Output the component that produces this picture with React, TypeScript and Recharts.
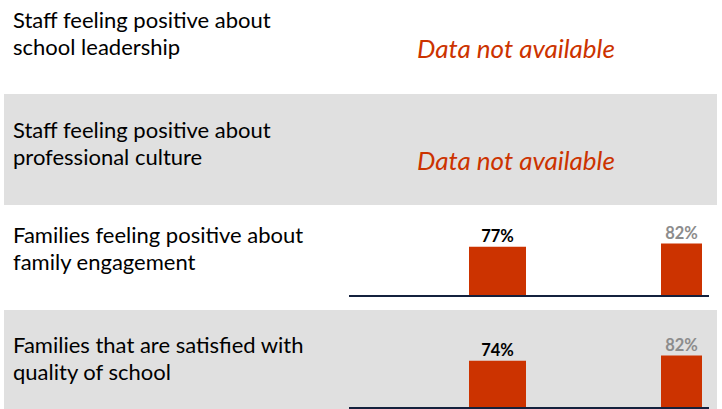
import { Bar, BarChart, LabelList, XAxis, YAxis } from "recharts";

const categories = [
  "Staff feeling positive about\nschool leadership",
  "Staff feeling positive about\nprofessional culture",
  "Families feeling positive about\nfamily engagement",
  "Families that are satisfied with\nquality of school",
];
const schoolValues: (number | null)[] = [null, null, 77, 74];
const comparisonValues: (number | null)[] = [null, null, 82, 82];
const missingText = "Data not available";

const ORANGE = "#cc3300";
const GREY_BG = "#e0e0e0";
const FONT = "Lato, 'Noto Sans', sans-serif";

// layout of the four bands
const rowTops = [0, 94, 205, 310];
const rowHeights = [94, 111, 105, 99];
const rowGrey = [false, true, false, true];
const labelTops = [6, 22, 16, 21];
const missingTops = [32, 50, 0, 0];
const chartTops = [0, 0, -3, 4];

const pct = (v: unknown) => `${v}%`;

function RowChart({ school, comparison }: { school: number; comparison: number }) {
  const data = [{ name: "row", school, comparison }];
  return (
    <BarChart
      width={360}
      height={96}
      data={data}
      margin={{ top: 30, right: 0, bottom: 0, left: 0 }}
      barGap={135}
    >
      <XAxis
        dataKey="name"
        height={2}
        tick={false}
        tickLine={false}
        axisLine={{ stroke: "#14213d", strokeWidth: 2 }}
        padding={{ left: 112, right: 0 }}
      />
      <YAxis hide domain={[0, 100]} />
      <Bar dataKey="school" fill={ORANGE} barSize={57} isAnimationActive={false}>
        <LabelList
          dataKey="school"
          position="top"
          formatter={pct}
          style={{ fill: "#000", fontWeight: 700, fontSize: 16.5, fontFamily: FONT }}
        />
      </Bar>
      <Bar dataKey="comparison" fill={ORANGE} barSize={41} isAnimationActive={false}>
        <LabelList
          dataKey="comparison"
          position="top"
          formatter={pct}
          style={{ fill: "#8c8c8c", fontWeight: 700, fontSize: 16.5, fontFamily: FONT }}
        />
      </Bar>
    </BarChart>
  );
}

export default function App() {
  return (
    <div
      style={{
        position: "absolute",
        left: 0,
        top: 0,
        width: 722,
        height: 409,
        overflow: "hidden",
        background: "#fff",
        fontFamily: FONT,
      }}
    >
      {categories.map((label, i) => {
        const school = schoolValues[i];
        const comparison = comparisonValues[i];
        return (
          <div
            key={label}
            style={{ position: "absolute", left: 0, top: rowTops[i], width: 722, height: rowHeights[i] }}
          >
            {rowGrey[i] && (
              <div
                style={{ position: "absolute", left: 4, top: 0, width: 713, height: "100%", background: GREY_BG }}
              />
            )}
            <div
              style={{
                position: "absolute",
                left: 13,
                top: labelTops[i],
                fontSize: 22,
                lineHeight: "27px",
                whiteSpace: "pre-line",
                color: "#000",
              }}
            >
              {label}
            </div>
            {school == null || comparison == null ? (
              <div
                style={{
                  position: "absolute",
                  left: 417,
                  top: missingTops[i],
                  fontSize: 26,
                  fontStyle: "italic",
                  color: ORANGE,
                  whiteSpace: "nowrap",
                }}
              >
                {missingText}
              </div>
            ) : (
              <div style={{ position: "absolute", left: 349, top: chartTops[i] }}>
                <RowChart school={school} comparison={comparison} />
              </div>
            )}
          </div>
        );
      })}
    </div>
  );
}
